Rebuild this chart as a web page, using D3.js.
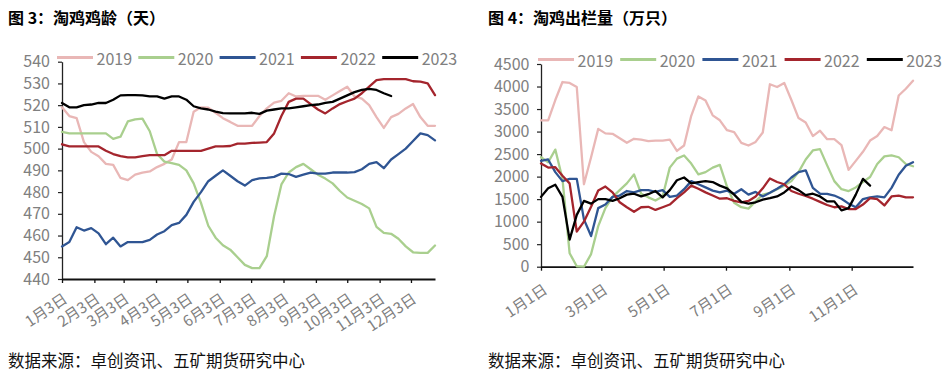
<!DOCTYPE html>
<html><head><meta charset="utf-8">
<script src="https://cdn.jsdelivr.net/npm/d3@7"></script>
<style>
html,body{margin:0;padding:0;background:#fff;}
svg{display:block;font-family:"Noto Sans CJK SC","Noto Sans",sans-serif;}
</style></head>
<body>
<svg id="chart" width="951" height="380"></svg>
<script>
// ---------- DATA ----------
const seriesNames = ["2019", "2020", "2021", "2022", "2023"];
const seriesColors = ["#E9B7B6", "#A9CF8E", "#2F5593", "#A4252D", "#000000"];

// Chart 1: 淘鸡鸡龄（天）, weekly from 1月3日
const ageYTicks = [440, 450, 460, 470, 480, 490, 500, 510, 520, 530, 540];
const ageXLabels = ["1月3日","2月3日","3月3日","4月3日","5月3日","6月3日","7月3日","8月3日","9月3日","10月3日","11月3日","12月3日"];
const age2019 = [519,515,514,503,498.5,496.5,493,492.5,486.5,485.5,488,489,489.5,491.5,493,495,503,503,517,519,518.8,516.5,514,512.3,510.5,510.5,
  510.5,515,518.5,521.2,522,525.5,524,524.3,524.3,524.3,522.5,524.5,526.5,528.5,524,523,520,514.5,509.5,514.5,516,518.5,520.5,514.5,510.5,510.5];
const age2020 = [507.7,507,507,507,507,507,507,504.5,505.5,512.5,513.5,513.8,508,497.5,494,493.3,492.5,490,484,475,464.5,459,455.5,453.5,450,446.5,
  445,445,450.5,469,483.5,489,491.5,493,490.5,488,486.2,484,480.5,477.5,476,474.5,472.5,464,461.2,460.8,458.5,455,452.3,452,452,455.4];
const age2021 = [455,457,463.8,462.3,463.4,461,456,459,455,457,457,457,458,460.5,462,464.8,465.8,469.5,475.5,480,485,487.5,490,487.5,485,483,
  485.5,486.3,486.5,487,488.5,488.3,487,488,489,488.5,488.5,489,489,489,489.2,490.5,493,493.8,491,495,497.5,500,503.5,507,506.2,503.8];
const age2022 = [502,501,501,501,501,501,499,497.5,496.5,496,496,496.5,497,497,497,499,499,499,499,499,500,501,501,501.2,502.3,502.3,
  502.6,502.8,503,507,515,521.5,523,523,520.5,518,516.2,518.5,520.5,521.8,523,525.5,528.5,531.5,532,532,532,532,531,530.8,530,524.6];
const age2023 = [521,519,519,520,520.3,521,521,522.5,524.5,524.6,524.6,524.5,524,524,523,524,524,522.5,519.5,518.5,518,517,516.3,516.2,516.2,516.2,
  516.5,516,517.5,518,518.5,518.5,519,519.5,520,520.3,521,521.5,523,524.5,526,527,527.5,527,525.5,524.2];

// Chart 2: 淘鸡出栏量（万只）, weekly from 1月1日
const outYTicks = [0, 500, 1000, 1500, 2000, 2500, 3000, 3500, 4000, 4500];
const outXLabels = ["1月1日","3月1日","5月1日","7月1日","9月1日","11月1日"];
const out2019 = [3250,3250,3700,4100,4080,3990,1830,2430,3060,2960,2950,2850,2750,2840,2820,2790,2800,2800,2820,2570,2690,3350,3780,3690,3360,3250,
  3030,2990,2750,2690,2770,2980,4050,3990,4080,3700,3300,3200,2900,3020,2830,2830,2700,2150,2350,2550,2800,2900,3100,3030,3800,3950,4130];
const out2020 = [2430,2320,2600,1950,300,10,0,280,900,1300,1550,1700,1850,2050,1620,1540,1470,1560,2200,2400,2470,2290,2050,2100,2200,2260,
  1780,1420,1320,1290,1450,1600,1640,1720,1800,1900,2100,2380,2580,2610,2250,1900,1720,1680,1760,1880,1990,2280,2450,2470,2430,2280,2230];
const out2021 = [2350,2380,2100,1900,1950,1950,1050,680,1300,1380,1550,1580,1680,1650,1700,1700,1660,1700,1550,1580,1720,1900,1830,1760,1690,1650,
  1690,1620,1720,1600,1660,1560,1640,1730,1830,1980,2100,2140,1750,1620,1615,1580,1510,1400,1320,1500,1540,1560,1540,1750,2040,2240,2320];
const out2022 = [2290,2200,2210,2020,1850,780,1000,1330,1690,1780,1650,1430,1320,1220,1320,1330,1260,1320,1380,1520,1650,1800,1730,1650,1580,1510,
  1520,1460,1430,1460,1560,1740,1960,1880,1830,1680,1620,1570,1510,1440,1370,1320,1340,1280,1280,1380,1520,1500,1360,1560,1580,1540,1540];
const out2023 = [1550,1740,1820,1550,600,1150,1460,1400,1500,1500,1460,1520,1600,1620,1560,1610,1680,1540,1700,1920,1980,1850,1880,1900,1880,1800,
  1740,1600,1440,1400,1430,1490,1520,1560,1650,1780,1700,1590,1620,1560,1450,1450,1250,1300,1600,1950,1800];

// ---------- DRAW ----------
const svg = d3.select("#chart");
const weekDates = (start, n) => d3.range(n).map(i => d3.timeDay.offset(start, 7 * i));

function drawChart(cfg) {
  const g = svg.append("g");
  const x = d3.scaleTime().domain(cfg.xDomain).range([cfg.x0, cfg.x1]);
  const y = d3.scaleLinear().domain(cfg.yDomain).range([cfg.yBot, cfg.yTop]);

  // title
  g.append("text").attr("x", cfg.titleX).attr("y", 17).attr("dominant-baseline", "central")
    .attr("font-size", 16).attr("font-weight", "bold").attr("fill", "#000").text(cfg.title);
  // source
  g.append("text").attr("x", cfg.titleX).attr("y", 360).attr("dominant-baseline", "central")
    .attr("font-size", 16.5).attr("fill", "#111").text("数据来源：卓创资讯、五矿期货研究中心");

  // axes
  const ya = g.append("g").attr("transform", `translate(${cfg.x0},0)`)
    .call(d3.axisLeft(y).tickValues(cfg.yTicks).tickFormat(d3.format("d"))
      .tickSize(4).tickPadding(cfg.yPad).tickSizeOuter(0));
  ya.select(".domain").attr("stroke", "#222").attr("stroke-width", 1.3);
  ya.selectAll(".tick line").attr("stroke", "#222").attr("stroke-width", 1.2);
  ya.selectAll("text").attr("font-size", 16).attr("fill", "#808080").attr("font-family", "'Noto Sans CJK SC',sans-serif");

  const xa = g.append("g").attr("transform", `translate(0,${cfg.yBot})`)
    .call(d3.axisBottom(x).tickValues(cfg.xTicks).tickFormat((d, i) => cfg.xLabels[i]).tickSize(4).tickSizeOuter(0));
  xa.select(".domain").attr("stroke", "#111").attr("stroke-width", 1.8);
  xa.selectAll(".tick line").attr("stroke", "#111").attr("stroke-width", 1.3);
  xa.selectAll("text").attr("font-size", 15).attr("fill", "#808080").attr("font-family", "'Noto Sans CJK SC',sans-serif")
    .attr("text-anchor", "end").attr("x", 0).attr("y", 0).attr("dy", "0.35em")
    .attr("transform", `translate(${cfg.lblDx},${cfg.lblDy}) rotate(-34)`);

  // lines
  const line = d3.line().x(d => x(d[0])).y(d => y(d[1]));
  cfg.series.forEach((vals, k) => {
    const pts = vals.map((v, i) => [cfg.dates[i], v]);
    g.append("path").datum(pts).attr("d", line).attr("fill", "none")
      .attr("stroke", seriesColors[k]).attr("stroke-width", 2.3)
      .attr("stroke-linejoin", "round").attr("stroke-linecap", "round");
  });

  // legend
  const lg = g.append("g");
  seriesNames.forEach((name, k) => {
    const lx = cfg.legX + k * cfg.legStep;
    lg.append("line").attr("x1", lx).attr("x2", lx + 36).attr("y1", cfg.legY).attr("y2", cfg.legY)
      .attr("stroke", seriesColors[k]).attr("stroke-width", 3);
    lg.append("text").attr("x", lx + 39.5).attr("y", cfg.legY).attr("dominant-baseline", "central")
      .attr("font-size", 16).attr("fill", "#808080").text(name);
  });
}

const ageStart = new Date(2023, 0, 3);
drawChart({
  title: "图 3：淘鸡鸡龄（天）", titleX: 8,
  x0: 62, x1: 435, yTop: 61.7, yBot: 279,
  xDomain: [ageStart, new Date(2023, 11, 26)],
  yDomain: [440, 540], yTicks: ageYTicks, yPad: 8,
  xTicks: d3.range(12).map(m => new Date(2023, m, 3)), xLabels: ageXLabels,
  lblDx: 3, lblDy: 18,
  dates: weekDates(ageStart, 52),
  series: [age2019, age2020, age2021, age2022, age2023],
  legX: 57, legStep: 81.3, legY: 57.5
});

const outStart = new Date(2023, 0, 1);
drawChart({
  title: "图 4：淘鸡出栏量（万只）", titleX: 488,
  x0: 541, x1: 913, yTop: 64, yBot: 266.7,
  xDomain: [outStart, new Date(2023, 11, 31)],
  yDomain: [0, 4500], yTicks: outYTicks, yPad: 7.5,
  xTicks: [0, 2, 4, 6, 8, 10].map(m => new Date(2023, m, 1)), xLabels: outXLabels,
  lblDx: 4, lblDy: 21,
  dates: weekDates(outStart, 53),
  series: [out2019, out2020, out2021, out2022, out2023],
  legX: 538, legStep: 82.2, legY: 59.5
});
</script>
</body></html>
